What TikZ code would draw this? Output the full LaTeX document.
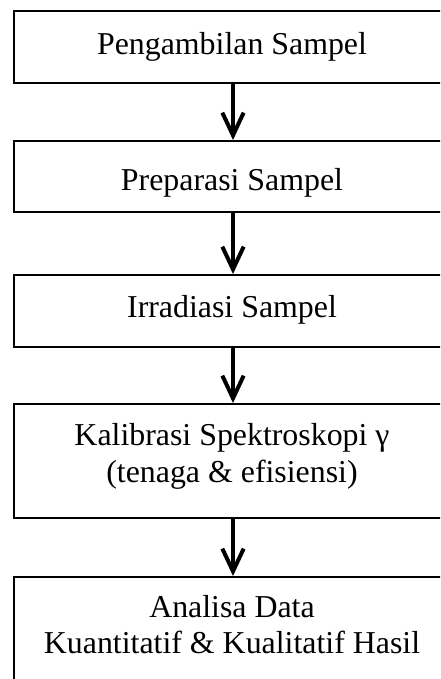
\documentclass[tikz,border=0pt]{standalone}
\usepackage{fontspec}
\setmainfont{Liberation Serif}
\usetikzlibrary{arrows.meta}
\tikzset{
  flowbox/.style={draw, line width=1.5pt, rectangle, inner sep=0pt, minimum width=327pt},
  txt/.style={inner sep=0pt, align=center, font=\fontsize{23.9}{27.4}\selectfont},
  arr/.style={line width=3pt, -{Straight Barb[length=17pt,width=16pt]}}
}
\begin{document}
\begin{tikzpicture}[x=0.75pt,y=-0.75pt]
\useasboundingbox (0,0) rectangle (440,679);
\clip (0,0) rectangle (440,679);
\node[flowbox, minimum height=54pt] (b1) at (232,47) {};
\node[flowbox, minimum height=53.25pt] (b2) at (232,176.5) {};
\node[flowbox, minimum height=54pt] (b3) at (232,311) {};
\node[flowbox, minimum height=85.5pt] (b4) at (232,461) {};
\node[flowbox, minimum height=85.5pt] (b5) at (232,634) {};
\node[txt, anchor=base] (t1) at (232,54.5) {Pengambilan Sampel};
\node[txt, anchor=base] (t2) at (232,190) {Preparasi Sampel};
\node[txt, anchor=base] (t3) at (232,317) {Irradiasi Sampel};
\node[txt, anchor=base] (t4a) at (232,445) {Kalibrasi Spektroskopi γ};
\node[txt, anchor=base] (t4b) at (232,482) {(tenaga \& efisiensi)};
\node[txt, anchor=base] (t5a) at (232,617) {Analisa Data};
\node[txt, anchor=base] (t5b) at (232,653) {Kuantitatif \& Kualitatif Hasil};
\draw[arr] ([xshift=0.75pt]b1.south) -- ([xshift=0.75pt]b2.north);
\draw[arr] ([xshift=0.75pt]b2.south) -- ([xshift=0.75pt]b3.north);
\draw[arr] ([xshift=0.75pt]b3.south) -- ([xshift=0.75pt]b4.north);
\draw[arr] ([xshift=0.75pt]b4.south) -- ([xshift=0.75pt]b5.north);
\end{tikzpicture}
\end{document}
